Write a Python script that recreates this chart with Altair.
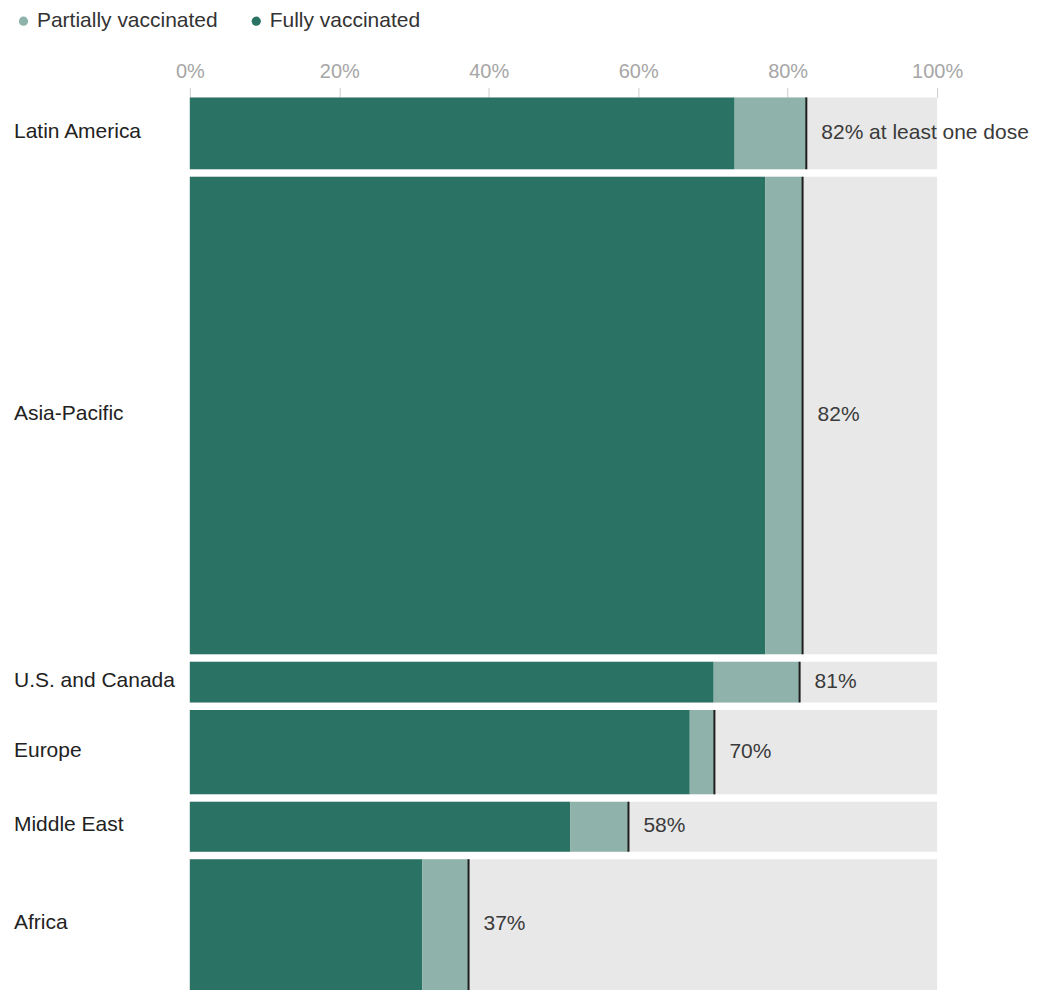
import altair as alt
import pandas as pd

# ---- data ----
regions = ["Latin America", "Asia-Pacific", "U.S. and Canada", "Europe", "Middle East", "Africa"]
population_m = [662, 4046, 402, 766, 479, 1154]          # bar heights are proportional to population
fully_pct = [72.9, 77.0, 70.1, 66.9, 50.9, 31.1]
at_least_one_pct = [82.5, 82.0, 81.6, 70.2, 58.7, 37.3]
value_labels = ["82% at least one dose", "82%", "81%", "70%", "58%", "37%"]
status_names = ["Partially vaccinated", "Fully vaccinated"]
axis_ticks = [0, 20, 40, 60, 80, 100]

DARK = "#2a7264"
LIGHT = "#8fb3aa"
BG = "#e8e8e8"
FONT = "Liberation Sans"
GAP = 7.5

base = pd.DataFrame({
    "region": regions,
    "pop": population_m,
    "fully": fully_pct,
    "total": at_least_one_pct,
    "label": value_labels,
})
base["end"] = base["pop"].cumsum()
base["start"] = base["end"] - base["pop"]
base["mid"] = (base["start"] + base["end"]) / 2
total_pop = float(base["pop"].sum())

seg_rows = []
for _, r in base.iterrows():
    seg_rows.append({"region": r["region"], "start": r["start"], "end": r["end"],
                     "x0": 0.0, "x1": r["fully"], "status": status_names[1]})
    seg_rows.append({"region": r["region"], "start": r["start"], "end": r["end"],
                     "x0": r["fully"], "x1": r["total"], "status": status_names[0]})
segs = pd.DataFrame(seg_rows)

W, H = 748, 901

yscale = alt.Scale(domain=[0, total_pop], reverse=True, nice=False, zero=False)
xscale = alt.Scale(domain=[0, 100], nice=False)

x_axis = alt.Axis(
    orient="top", values=axis_ticks, labelExpr="datum.value + '%'",
    domain=False, grid=False, ticks=True, tickColor="#cccccc", tickSize=10,
    tickWidth=1, labelColor="#a6a6a6", labelFontSize=20, labelFont=FONT,
    labelPadding=6, labelFlush=False, title=None,
)

bg = alt.Chart(base).mark_bar(color=BG, y2Offset=-GAP).encode(
    x=alt.X("zero:Q", scale=xscale, axis=x_axis),
    x2=alt.X2("hundred:Q"),
    y=alt.Y("start:Q", scale=yscale, axis=None),
    y2="end:Q",
).transform_calculate(zero="0", hundred="100")

bars = alt.Chart(segs).mark_bar(y2Offset=-GAP).encode(
    x=alt.X("x0:Q", scale=xscale),
    x2="x1:Q",
    y=alt.Y("start:Q", scale=yscale),
    y2="end:Q",
    color=alt.Color(
        "status:N",
        scale=alt.Scale(domain=status_names, range=[LIGHT, DARK]),
        legend=alt.Legend(
            title=None, orient="none", direction="horizontal",
            legendX=-177, legendY=-87, symbolType="circle", symbolSize=85,
            symbolStrokeWidth=0, labelFontSize=21, labelFont=FONT,
            labelColor="#333333", columnPadding=28, labelOffset=3, padding=0,
            labelLimit=0,
        ),
    ),
)

rules = alt.Chart(base).mark_rule(color="#1e1e1e", strokeWidth=2, y2Offset=-GAP).encode(
    x=alt.X("total:Q", scale=xscale),
    y=alt.Y("start:Q", scale=yscale),
    y2="end:Q",
)

vals = alt.Chart(base).mark_text(
    align="left", baseline="middle", dx=15, dy=-4, fontSize=21, font=FONT, color="#3a3a3a"
).encode(
    x=alt.X("total:Q", scale=xscale),
    y=alt.Y("mid:Q", scale=yscale),
    text="label:N",
)

names = alt.Chart(base).mark_text(
    align="left", baseline="middle", dy=-5, fontSize=21, font=FONT, color="#222222"
).encode(
    x=alt.value(-176),
    y=alt.Y("mid:Q", scale=yscale),
    text="region:N",
)

chart = alt.layer(bg, bars, rules, vals, names).properties(
    width=W, height=H,
    background="white",
    autosize=alt.AutoSizeParams(type="none"),
    padding={"left": 182, "top": 89, "right": 100, "bottom": 0},
).configure_view(strokeWidth=0, stroke="transparent").configure_axis(grid=False)

chart.save("out.html", embed_options={"renderer": "svg", "actions": False})
